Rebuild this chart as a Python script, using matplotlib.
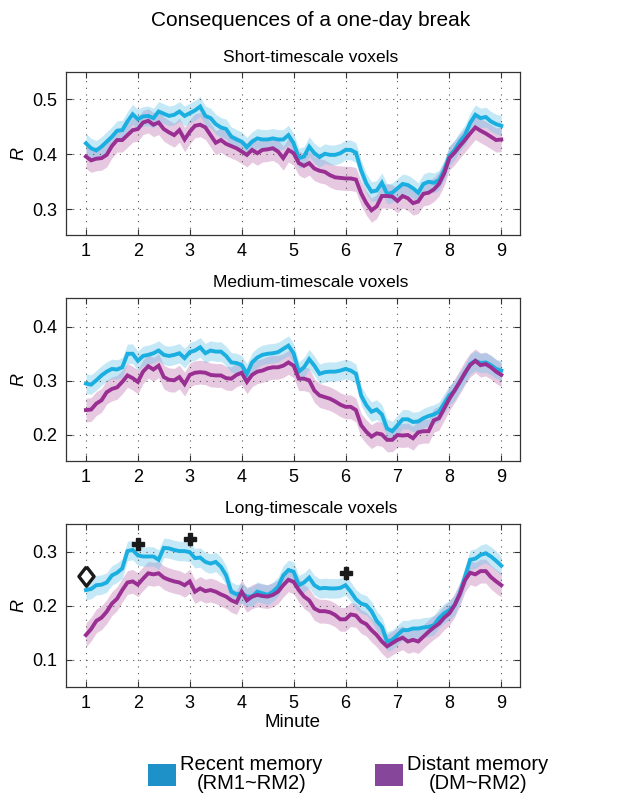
import matplotlib
matplotlib.use("Agg")
import matplotlib.pyplot as plt
from matplotlib.patches import Patch
import numpy as np

plt.rcParams['font.family'] = ['Liberation Sans', 'DejaVu Sans']

minutes = [1.0, 1.1, 1.2, 1.3, 1.4, 1.5, 1.6, 1.7, 1.8, 1.9,
           2.0, 2.1, 2.2, 2.3, 2.4, 2.5, 2.6, 2.7, 2.8, 2.9,
           3.0, 3.1, 3.2, 3.3, 3.4, 3.5, 3.6, 3.7, 3.8, 3.9,
           4.0, 4.1, 4.2, 4.3, 4.4, 4.5, 4.6, 4.7, 4.8, 4.9,
           5.0, 5.1, 5.2, 5.3, 5.4, 5.5, 5.6, 5.7, 5.8, 5.9,
           6.0, 6.1, 6.2, 6.3, 6.4, 6.5, 6.6, 6.7, 6.8, 6.9,
           7.0, 7.1, 7.2, 7.3, 7.4, 7.5, 7.6, 7.7, 7.8, 7.9,
           8.0, 8.1, 8.2, 8.3, 8.4, 8.5, 8.6, 8.7, 8.8, 8.9, 9.0]

# short-timescale voxels
short_recent = [0.420, 0.411, 0.407, 0.414, 0.423, 0.432, 0.443, 0.444, 0.460, 0.473,
                0.464, 0.469, 0.470, 0.466, 0.478, 0.474, 0.470, 0.472, 0.478, 0.470,
                0.475, 0.480, 0.487, 0.470, 0.466, 0.455, 0.449, 0.446, 0.432, 0.427,
                0.423, 0.413, 0.423, 0.429, 0.427, 0.427, 0.429, 0.427, 0.427, 0.435,
                0.420, 0.393, 0.396, 0.414, 0.402, 0.395, 0.401, 0.399, 0.399, 0.402,
                0.408, 0.408, 0.403, 0.371, 0.347, 0.332, 0.334, 0.348, 0.328, 0.330,
                0.338, 0.346, 0.344, 0.338, 0.330, 0.346, 0.350, 0.348, 0.353, 0.371,
                0.397, 0.408, 0.423, 0.435, 0.457, 0.472, 0.466, 0.468, 0.460, 0.455, 0.452]
short_distant = [0.396, 0.389, 0.392, 0.393, 0.399, 0.415, 0.426, 0.426, 0.435, 0.444,
                 0.446, 0.458, 0.461, 0.454, 0.458, 0.446, 0.440, 0.435, 0.444, 0.427,
                 0.441, 0.452, 0.454, 0.449, 0.435, 0.421, 0.426, 0.419, 0.415, 0.411,
                 0.405, 0.399, 0.408, 0.402, 0.408, 0.409, 0.411, 0.405, 0.393, 0.408,
                 0.402, 0.384, 0.379, 0.384, 0.374, 0.370, 0.368, 0.362, 0.358, 0.357,
                 0.356, 0.356, 0.354, 0.329, 0.311, 0.298, 0.305, 0.324, 0.324, 0.323,
                 0.315, 0.324, 0.320, 0.311, 0.314, 0.328, 0.330, 0.336, 0.346, 0.365,
                 0.393, 0.403, 0.415, 0.426, 0.438, 0.449, 0.443, 0.438, 0.432, 0.426, 0.427]

# medium-timescale voxels
medium_recent = [0.295, 0.293, 0.301, 0.310, 0.317, 0.322, 0.321, 0.325, 0.350, 0.350,
                 0.337, 0.346, 0.348, 0.351, 0.356, 0.348, 0.346, 0.348, 0.351, 0.342,
                 0.353, 0.356, 0.362, 0.351, 0.356, 0.354, 0.354, 0.346, 0.334, 0.333,
                 0.329, 0.313, 0.334, 0.343, 0.348, 0.350, 0.351, 0.353, 0.359, 0.365,
                 0.351, 0.317, 0.325, 0.340, 0.328, 0.313, 0.316, 0.317, 0.317, 0.319,
                 0.322, 0.319, 0.313, 0.273, 0.255, 0.243, 0.247, 0.238, 0.212, 0.207,
                 0.218, 0.229, 0.229, 0.224, 0.225, 0.231, 0.235, 0.238, 0.243, 0.258,
                 0.273, 0.282, 0.298, 0.313, 0.331, 0.337, 0.333, 0.334, 0.329, 0.322, 0.319]
medium_distant = [0.246, 0.247, 0.258, 0.264, 0.279, 0.285, 0.288, 0.298, 0.310, 0.305,
                  0.298, 0.317, 0.327, 0.321, 0.328, 0.307, 0.302, 0.301, 0.307, 0.294,
                  0.311, 0.315, 0.316, 0.315, 0.311, 0.310, 0.310, 0.305, 0.304, 0.311,
                  0.315, 0.298, 0.311, 0.317, 0.319, 0.323, 0.325, 0.325, 0.328, 0.334,
                  0.328, 0.304, 0.304, 0.301, 0.282, 0.273, 0.270, 0.267, 0.262, 0.256,
                  0.252, 0.252, 0.246, 0.218, 0.206, 0.197, 0.203, 0.201, 0.191, 0.191,
                  0.200, 0.199, 0.200, 0.194, 0.205, 0.207, 0.207, 0.227, 0.231, 0.249,
                  0.267, 0.282, 0.298, 0.315, 0.329, 0.337, 0.329, 0.331, 0.325, 0.317, 0.311]

# long-timescale voxels
long_recent = [0.229, 0.231, 0.238, 0.239, 0.243, 0.256, 0.261, 0.269, 0.301, 0.303,
               0.293, 0.291, 0.291, 0.291, 0.285, 0.307, 0.306, 0.303, 0.301, 0.301,
               0.299, 0.288, 0.289, 0.281, 0.278, 0.281, 0.272, 0.256, 0.226, 0.221,
               0.223, 0.217, 0.217, 0.226, 0.223, 0.220, 0.226, 0.235, 0.256, 0.266,
               0.263, 0.238, 0.243, 0.252, 0.238, 0.232, 0.233, 0.232, 0.232, 0.233,
               0.238, 0.226, 0.212, 0.204, 0.201, 0.190, 0.172, 0.161, 0.134, 0.137,
               0.146, 0.155, 0.155, 0.158, 0.158, 0.160, 0.161, 0.164, 0.177, 0.186,
               0.192, 0.201, 0.223, 0.253, 0.285, 0.287, 0.294, 0.297, 0.291, 0.283, 0.274]
long_distant = [0.146, 0.157, 0.172, 0.178, 0.189, 0.204, 0.213, 0.229, 0.243, 0.245,
                0.239, 0.250, 0.260, 0.258, 0.260, 0.252, 0.248, 0.245, 0.243, 0.238,
                0.245, 0.226, 0.232, 0.227, 0.229, 0.226, 0.221, 0.217, 0.210, 0.206,
                0.226, 0.210, 0.217, 0.220, 0.218, 0.217, 0.220, 0.226, 0.238, 0.248,
                0.244, 0.229, 0.217, 0.210, 0.195, 0.190, 0.190, 0.188, 0.183, 0.175,
                0.175, 0.184, 0.182, 0.171, 0.166, 0.155, 0.146, 0.134, 0.125, 0.131,
                0.137, 0.141, 0.134, 0.137, 0.134, 0.143, 0.152, 0.160, 0.167, 0.178,
                0.186, 0.201, 0.221, 0.247, 0.261, 0.258, 0.264, 0.264, 0.253, 0.245, 0.238]

# half-width of the shaded bands
band_recent = 0.018
band_distant = 0.022

# significance markers on the long-timescale panel
diamond_x = [1]
diamond_y = [0.255]
plus_x = [2, 3, 6]
plus_y = [0.315, 0.323, 0.261]

titles = ["Short-timescale voxels", "Medium-timescale voxels", "Long-timescale voxels"]
recent = [short_recent, medium_recent, long_recent]
distant = [short_distant, medium_distant, long_distant]
ylims = [(0.253, 0.55), (0.152, 0.453), (0.05, 0.351)]
yticks = [[0.3, 0.4, 0.5], [0.2, 0.3, 0.4], [0.1, 0.2, 0.3]]

blue = '#1BAEE0'
purple = '#9A2F93'
blue_fill = '#6CC6EA'
purple_fill = '#C27AB6'

# slightly tall diamond
diamond = [(0, 1), (0.78, 0), (0, -1), (-0.78, 0), (0, 1)]

fig = plt.figure(figsize=(6.22, 7.93), dpi=100)
fig.text(0.5, 0.974, "Consequences of a one-day break", ha='center', va='center', fontsize=15)

bottoms = [0.7037, 0.4187, 0.1337]
title_y = [0.928, 0.644, 0.359]
x = np.array(minutes)
for i in range(3):
    ax = fig.add_axes([0.106, bottoms[i], 0.730, 0.2055])
    r = np.array(recent[i])
    d = np.array(distant[i])
    ax.fill_between(x, d - band_distant, d + band_distant, color=purple_fill, alpha=0.4, lw=0)
    ax.fill_between(x, r - band_recent, r + band_recent, color=blue_fill, alpha=0.4, lw=0)
    ax.plot(x, r, color=blue, lw=2.8, solid_joinstyle='miter')
    ax.plot(x, d, color=purple, lw=2.8, solid_joinstyle='miter')
    ax.set_xlim(0.615, 9.36)
    ax.set_ylim(*ylims[i])
    ax.set_xticks(range(1, 10))
    ax.set_yticks(yticks[i])
    ax.set_yticklabels([str(v) for v in yticks[i]])
    ax.grid(True, color='#555555', linestyle=(0, (1, 5)), lw=0.8)
    ax.tick_params(direction='in', top=True, right=True, labelsize=13, length=4, color='#333333', pad=6)
    ax.set_ylabel("R", style='italic', fontsize=13, labelpad=4)
    for s in ax.spines.values():
        s.set_color('#333333')
        s.set_linewidth(0.9)
    fig.text(0.5, title_y[i], titles[i], ha='center', va='center', fontsize=12.5)
    if i == 2:
        ax.plot(diamond_x, diamond_y, marker=diamond, ms=14, mfc='white', mec='#1a1a1a', mew=2.4, ls='none', zorder=5)
        ax.plot(plus_x, plus_y, marker='P', ms=9, color='#1a1a1a', ls='none', zorder=5)
        ax.set_xlabel("Minute", fontsize=13.5, labelpad=1)

handles = [Patch(facecolor='#1E91C8', edgecolor='none'), Patch(facecolor='#86469A', edgecolor='none')]
leg = fig.legend(handles, ["Recent memory\n(RM1~RM2)", "Distant memory\n(DM~RM2)"],
                 loc='center', bbox_to_anchor=(0.56, 0.024), ncol=2, frameon=False, fontsize=14.5,
                 handlelength=1.4, handleheight=1.3, handletextpad=0.2, columnspacing=2.6,
                 labelspacing=0.1)
for t in leg.get_texts():
    t.set_multialignment('center')
    t.set_linespacing(0.95)

fig.savefig("out.png", dpi=100)
